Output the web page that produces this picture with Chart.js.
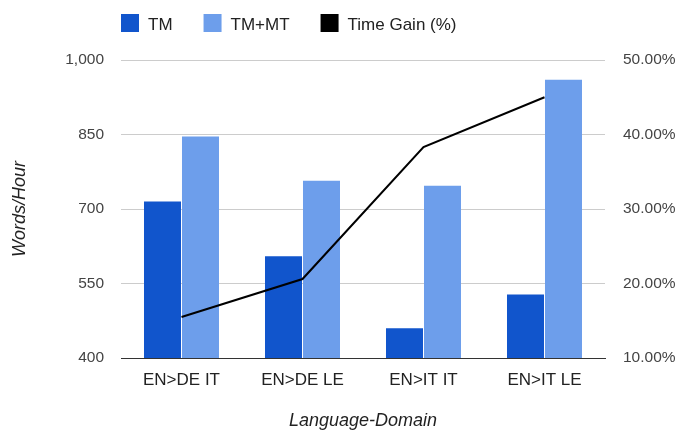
<!DOCTYPE html>
<html>
<head>
<meta charset="utf-8">
<script src="https://cdn.jsdelivr.net/npm/chart.js@4.4.1/dist/chart.umd.min.js"></script>
<style>
  body { margin: 0; background: #fff; }
  #wrap { width: 679px; height: 430px; position: relative; }
</style>
</head>
<body>
<div id="wrap"><canvas id="gainChart"></canvas></div>
<script>
// 数据
const categories = ['EN>DE IT', 'EN>DE LE', 'EN>IT IT', 'EN>IT LE'];
const tmValues = [715, 605, 460, 528];
const tmMtValues = [846, 757, 747, 960];
const gainValues = [15.5, 20.6, 38.3, 45.0];
const leftTicks = [400, 550, 700, 850, 1000];
const rightTicks = [10, 20, 30, 40, 50];

const FONT = '"Liberation Sans", Arial, sans-serif';

// 图例（手绘，位置贴合原图）
const topLegend = {
    id: 'topLegend',
    afterDraw(chart) {
        const ctx = chart.ctx;
        ctx.save();
        ctx.font = '17px ' + FONT;
        ctx.textBaseline = 'alphabetic';
        let x = chart.chartArea.left;
        chart.data.datasets.forEach(ds => {
            ctx.fillStyle = ds.legendColor;
            ctx.fillRect(x, 14, 18, 18);
            ctx.fillStyle = '#222';
            ctx.fillText(ds.label, x + 27, 30);
            x += 27 + ctx.measureText(ds.label).width + 31;
        });
        ctx.restore();
    }
};

window.addEventListener('DOMContentLoaded', function() {
    const ctx = document.getElementById('gainChart').getContext('2d');
    new Chart(ctx, {
        type: 'bar',
        data: {
            labels: categories,
            datasets: [{
                label: 'TM',
                data: tmValues,
                backgroundColor: '#1155cc',
                legendColor: '#1155cc',
                yAxisID: 'y',
                order: 1
            }, {
                label: 'TM+MT',
                data: tmMtValues,
                backgroundColor: '#6d9eeb',
                legendColor: '#6d9eeb',
                yAxisID: 'y',
                order: 1
            }, {
                type: 'line',
                label: 'Time Gain (%)',
                data: gainValues,
                borderColor: '#000',
                legendColor: '#000',
                borderWidth: 2,
                pointRadius: 0,
                tension: 0,
                yAxisID: 'y1',
                order: 0
            }]
        },
        options: {
            responsive: true,
            maintainAspectRatio: false,
            animation: false,
            layout: { padding: { top: 60, left: 0, right: 0, bottom: 0 } },
            datasets: {
                bar: { categoryPercentage: 0.628, barPercentage: 0.974 }
            },
            scales: {
                x: {
                    grid: { display: false, drawTicks: false },
                    border: { display: true, color: '#333', width: 1 },
                    ticks: { color: '#222', padding: 12, font: { family: FONT, size: 17 } },
                    title: {
                        display: true,
                        text: 'Language-Domain',
                        color: '#222',
                        padding: { top: 0, bottom: 0 },
                        font: { family: FONT, size: 18, style: 'italic', lineHeight: 1 }
                    },
                    afterFit(scale) { scale.height = 72; }
                },
                y: {
                    position: 'left',
                    min: 400,
                    max: 1000,
                    afterBuildTicks(scale) { scale.ticks = leftTicks.map(v => ({ value: v })); },
                    grid: {
                        drawTicks: false,
                        color: c => (c.tick && c.tick.value === 400) ? 'rgba(0,0,0,0)' : '#cccccc'
                    },
                    border: { display: false },
                    ticks: {
                        color: '#444',
                        padding: 17,
                        font: { family: FONT, size: 15.5 },
                        callback: v => v.toLocaleString('en-US')
                    },
                    title: {
                        display: true,
                        text: 'Words/Hour',
                        color: '#222',
                        padding: { top: 10.5, bottom: 0 },
                        font: { family: FONT, size: 18, style: 'italic', lineHeight: 1 }
                    },
                    afterFit(scale) { scale.width = 121; }
                },
                y1: {
                    position: 'right',
                    min: 10,
                    max: 50,
                    afterBuildTicks(scale) { scale.ticks = rightTicks.map(v => ({ value: v })); },
                    grid: { display: false, drawTicks: false },
                    border: { display: false },
                    ticks: {
                        color: '#444',
                        padding: 18,
                        font: { family: FONT, size: 15.5 },
                        callback: v => v.toFixed(2) + '%'
                    },
                    afterFit(scale) { scale.width = 74; }
                }
            },
            plugins: {
                legend: { display: false },
                tooltip: { enabled: false }
            }
        },
        plugins: [topLegend]
    });
});
</script>
</body>
</html>
